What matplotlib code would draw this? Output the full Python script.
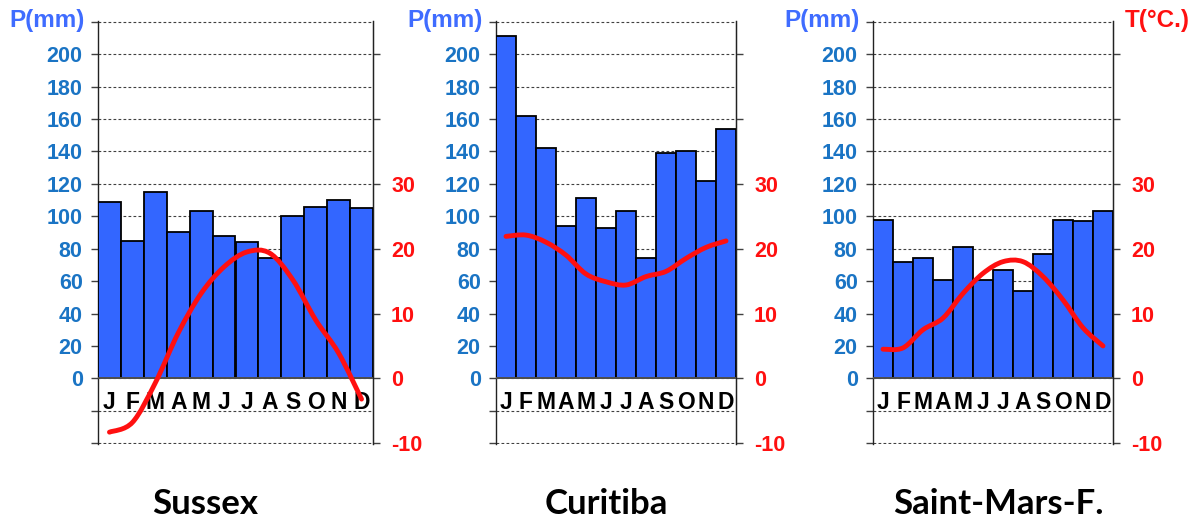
import numpy as np
import matplotlib
matplotlib.use("Agg")
import matplotlib.pyplot as plt
from matplotlib.path import Path
from matplotlib.patches import PathPatch
from matplotlib.ticker import FixedLocator, FuncFormatter

# monthly values
months = ["J", "F", "M", "A", "M", "J", "J", "A", "S", "O", "N", "D"]
stations = ["Sussex", "Curitiba", "Saint-Mars-F."]

p_sussex = [109, 85, 115, 90, 103, 88, 84, 74, 100, 106, 110, 105]
t_sussex = [-8.3, -6.8, -0.7, 7.0, 13.1, 17.2, 19.5, 19.3, 15.2, 9.0, 3.9, -3.2]

p_curitiba = [211, 162, 142, 94, 111, 93, 103, 74, 139, 140, 122, 154]
t_curitiba = [21.9, 22.1, 21.0, 19.0, 16.1, 14.9, 14.4, 15.7, 16.5, 18.5, 20.2, 21.2]

p_stmars = [98, 72, 74, 61, 81, 61, 67, 54, 77, 98, 97, 103]
t_stmars = [4.5, 4.7, 7.5, 9.3, 13.1, 16.2, 18.0, 18.0, 15.7, 12.1, 7.8, 5.0]

precip = [p_sussex, p_curitiba, p_stmars]
temps = [t_sussex, t_curitiba, t_stmars]

W, H = 1192, 520
# axes boxes in pixels: left, right
boxes = [(98, 373), (496, 736), (873, 1113)]
title_x = [205, 606, 998]
ax_top, ax_bot = 21, 444

BAR = "#3366ff"
BLUE_TXT = "#1a74c4"
PMM = "#3f6cff"
RED = "#ff1010"
GRID = "#404040"


def smooth_path(x, y):
    # Catmull-Rom -> cubic bezier, just for drawing a smoothed line
    x = np.asarray(x, float)
    y = np.asarray(y, float)
    verts = [(x[0], y[0])]
    codes = [Path.MOVETO]
    n = len(x)
    for i in range(n - 1):
        x0, y0 = (x[i - 1], y[i - 1]) if i > 0 else (x[i], y[i])
        x3, y3 = (x[i + 2], y[i + 2]) if i + 2 < n else (x[i + 1], y[i + 1])
        c1 = (x[i] + (x[i + 1] - x0) / 6, y[i] + (y[i + 1] - y0) / 6)
        c2 = (x[i + 1] - (x3 - x[i]) / 6, y[i + 1] - (y3 - y[i]) / 6)
        verts += [c1, c2, (x[i + 1], y[i + 1])]
        codes += [Path.CURVE4] * 3
    return Path(verts, codes)


plt.rcParams["font.family"] = ["Liberation Sans", "DejaVu Sans"]
fig = plt.figure(figsize=(W / 100, H / 100), dpi=100)

for k in range(3):
    l, r = boxes[k]
    ax = fig.add_axes([l / W, (H - ax_bot) / H, (r - l) / W, (ax_bot - ax_top) / H])
    xc = np.arange(12) + 0.5
    ax.bar(xc, precip[k], width=1.0, color=BAR, edgecolor="black", linewidth=1.3, zorder=3)
    ax.set_xlim(0, 12)
    ax.set_ylim(-40.5, 220.5)

    ax.yaxis.set_major_locator(FixedLocator(np.arange(-40, 221, 20)))
    ax.yaxis.set_major_formatter(FuncFormatter(lambda v, p: f"{v:.0f}" if 0 <= v <= 200 else ""))
    ax.grid(axis="y", color=GRID, linestyle=(0, (2.5, 2)), linewidth=0.8, zorder=0)
    ax.axhline(0, color="#555555", linewidth=1.3, zorder=4)
    ax.tick_params(axis="y", length=5, width=1, color=GRID, direction="out", pad=6,
                   labelsize=15.5, labelcolor=BLUE_TXT)
    for lab in ax.get_yticklabels():
        lab.set_fontweight("bold")
    ax.set_xticks([])
    for s in ["top", "bottom"]:
        ax.spines[s].set_visible(False)
    for s in ["left", "right"]:
        ax.spines[s].set_color("#222222")
        ax.spines[s].set_linewidth(1.0)

    for i, m in enumerate(months):
        ax.text(xc[i], -15, m, ha="center", va="center", fontsize=16.5,
                fontweight="bold", color="black", zorder=5)

    ax.annotate("P(mm)", xy=(0, 1), xycoords="axes fraction", xytext=(-13, 0),
                textcoords="offset pixels", ha="right", va="center",
                fontsize=17.5, fontweight="bold", color=PMM)

    ax2 = ax.twinx()
    ax2.set_ylim(-10.125, 55.125)
    ax2.yaxis.set_major_locator(FixedLocator(np.arange(-10, 51, 10)))
    ax2.yaxis.set_major_formatter(FuncFormatter(lambda v, p: f"{v:.0f}" if v <= 30 else ""))
    ax2.tick_params(axis="y", length=5, width=1, color=GRID, direction="out", pad=8,
                    labelsize=15.5, labelcolor=RED)
    for lab in ax2.get_yticklabels():
        lab.set_fontweight("bold")
    for s in ["top", "bottom", "left"]:
        ax2.spines[s].set_visible(False)
    ax2.spines["right"].set_color("#222222")
    ax2.patch.set_visible(False)
    ax2.add_patch(PathPatch(smooth_path(xc, temps[k]), facecolor="none", edgecolor=RED,
                            linewidth=3.5, capstyle="round", joinstyle="round", zorder=6))

    if k == 2:
        ax2.annotate("T(°C.)", xy=(1, 1), xycoords="axes fraction", xytext=(12, 0),
                     textcoords="offset pixels", ha="left", va="center",
                     fontsize=17.5, fontweight="bold", color=RED)

    fig.text(title_x[k] / W, 6 / H, stations[k], ha="center", va="baseline",
             fontsize=25, fontweight="bold", family=["Lato", "DejaVu Sans"], color="black")

fig.savefig("out.png", dpi=100)
